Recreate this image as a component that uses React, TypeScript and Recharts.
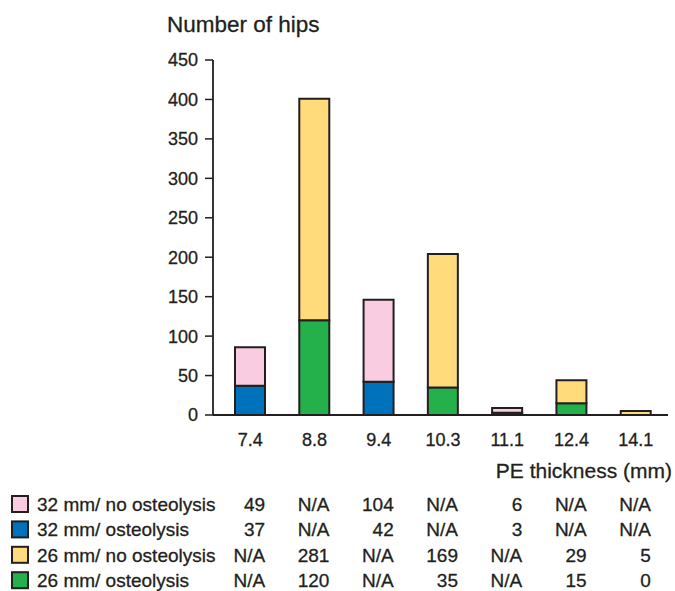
import { BarChart, Bar, XAxis, YAxis } from 'recharts';

const categories = ['7.4', '8.8', '9.4', '10.3', '11.1', '12.4', '14.1'];
const noOsteo32 = [49, null, 104, null, 6, null, null];
const osteo32 = [37, null, 42, null, 3, null, null];
const noOsteo26 = [null, 281, null, 169, null, 29, 5];
const osteo26 = [null, 120, null, 35, null, 15, 0];
const yTicks = [0, 50, 100, 150, 200, 250, 300, 350, 400, 450];

const INK = '#231f20';
const FONT = '"Liberation Sans", Arial, Helvetica, sans-serif';

const series = [
  { key: 'noOsteo32', label: '32 mm/ no osteolysis', color: '#f9cce1', values: noOsteo32 },
  { key: 'osteo32', label: '32 mm/ osteolysis', color: '#0071bb', values: osteo32 },
  { key: 'noOsteo26', label: '26 mm/ no osteolysis', color: '#ffdb7b', values: noOsteo26 },
  { key: 'osteo26', label: '26 mm/ osteolysis', color: '#24b14c', values: osteo26 },
];

// bottom of each stack first
const stackOrder = ['osteo32', 'osteo26', 'noOsteo32', 'noOsteo26'];

const data = categories.map((c, i) => {
  const row: any = { thickness: c };
  series.forEach(s => { row[s.key] = s.values[i] ?? 0; });
  return row;
});

// chart geometry
const W = 675;
const CHART_H = 450;
const M = { top: 60, right: 7, left: 0, bottom: 5 };
const Y_AXIS_W = 213;
const PAD_LEFT = 5;
const bandStart = M.left + Y_AXIS_W + PAD_LEFT;
const bandW = (W - M.right - bandStart) / categories.length;

const tickStyle = { fill: INK, fontSize: 18, fontFamily: FONT, stroke: INK, strokeWidth: 0.3 };

const App = () => {
  return (
    <div style={{ position: 'absolute', left: 0, top: 0, width: W, height: 591, background: '#fff' }}>
      <BarChart width={W} height={CHART_H} data={data} margin={M} barSize={30}>
        <XAxis
          dataKey="thickness"
          height={30}
          padding={{ left: PAD_LEFT, right: 0 }}
          tickLine={false}
          tickMargin={12}
          axisLine={{ stroke: INK, strokeWidth: 1.8 }}
          tick={tickStyle}
        />
        <YAxis
          width={Y_AXIS_W}
          domain={[0, 450]}
          ticks={yTicks}
          interval={0}
          tickSize={8}
          tickMargin={7}
          axisLine={{ stroke: INK, strokeWidth: 1.8 }}
          tickLine={{ stroke: INK, strokeWidth: 1.5 }}
          tick={tickStyle}
        />
        {stackOrder.map(k => {
          const s = series.find(x => x.key === k)!;
          return (
            <Bar
              key={k}
              dataKey={k}
              stackId="a"
              fill={s.color}
              stroke={INK}
              strokeWidth={2}
              isAnimationActive={false}
            />
          );
        })}
      </BarChart>

      <svg width={W} height={591} style={{ position: 'absolute', left: 0, top: 0, pointerEvents: 'none' }}>
        <g fontFamily={FONT} fill={INK} stroke={INK} strokeWidth={0.3}>
          <text x={167} y={32} fontSize={22.5}>Number of hips</text>
          <text x={672} y={478} fontSize={21} textAnchor="end">PE thickness (mm)</text>
          {series.map((s, r) => {
            const cy = 504 + r * 25.4;
            return (
              <g key={s.key}>
                <rect x={12} y={cy - 8} width={16} height={16} fill={s.color} stroke={INK} strokeWidth={2} />
                <text x={37} y={cy + 7} fontSize={19}>{s.label}</text>
                {s.values.map((v, i) => (
                  <text key={i} x={bandStart + (i + 0.5) * bandW + 15} y={cy + 7} fontSize={19} textAnchor="end">
                    {v === null ? 'N/A' : v}
                  </text>
                ))}
              </g>
            );
          })}
        </g>
      </svg>
    </div>
  );
};

export default App;
